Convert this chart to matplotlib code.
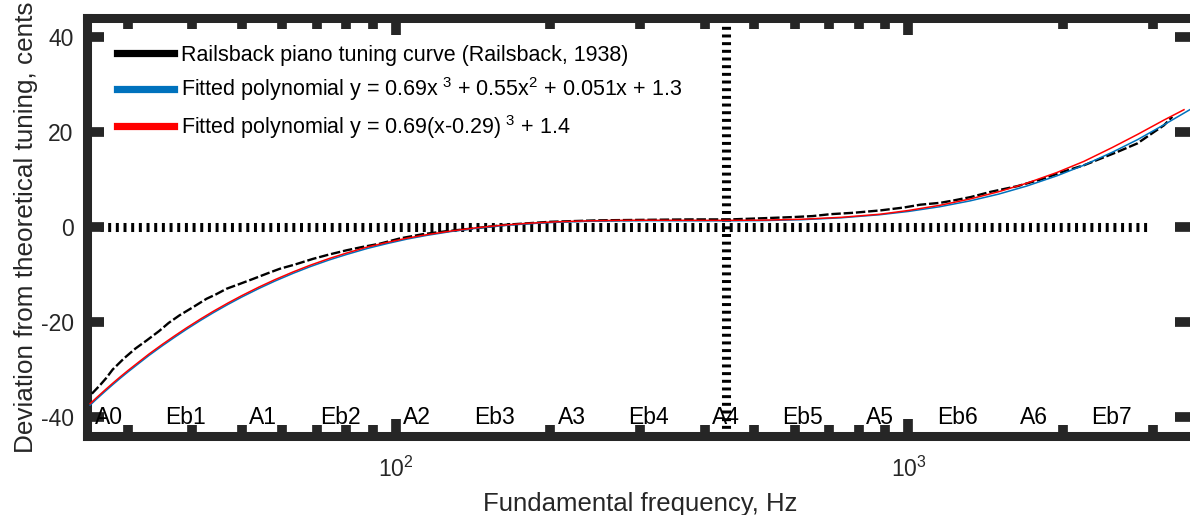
import matplotlib
matplotlib.use("Agg")
import matplotlib.pyplot as plt
from matplotlib.lines import Line2D
import matplotlib.ticker as mticker

plt.rcParams["font.family"] = ["Liberation Sans", "DejaVu Sans"]
plt.rcParams["mathtext.fontset"] = "custom"
plt.rcParams["mathtext.rm"] = "Liberation Sans"
plt.rcParams["axes.unicode_minus"] = False

# Railsback curve (Hz, cents)
rail_f = [25.5, 26.5, 27.2, 28.0, 29.5, 31.0, 32.6, 34.5, 36.0, 37.8, 40.0, 42.7,
          44.5, 46.7, 49.5, 52.7, 56.0, 59.3, 63.5, 68.9, 74.0, 80.1, 86.0, 93.1,
          101.8, 112.9, 125, 141.4, 165, 199.9, 246.6, 300, 375, 449, 506, 597,
          650, 704, 782, 882, 979, 1055, 1155, 1226, 1322, 1446, 1631, 1811, 2011,
          2200, 2371, 2556, 2797, 3014, 3151, 3273]
rail_c = [-35.1, -33.2, -31.8, -30.0, -27.6, -25.6, -23.9, -21.9, -20.2, -18.6,
          -17.0, -15.1, -14.2, -13.0, -12.0, -10.9, -9.8, -8.8, -7.9, -6.7, -5.8,
          -4.9, -4.2, -3.5, -2.4, -1.5, -0.9, -0.3, 0.5, 1.1, 1.4, 1.5, 1.6, 1.6,
          1.8, 2.1, 2.3, 2.7, 3.0, 3.5, 4.1, 4.7, 5.1, 5.6, 6.3, 7.4, 8.6, 10.0,
          11.7, 13.0, 14.4, 15.8, 17.6, 20.0, 21.4, 23.2]

# fitted curves (Hz, cents)
fit_f = [25.3, 26, 27, 28, 29, 30, 31.5, 33, 35, 37, 39, 41.5, 44, 47, 50, 54, 58,
         63, 68, 74, 80, 88, 96, 105, 115, 128, 142, 160, 180, 205, 235, 270, 310,
         360, 440, 520, 620, 740, 880, 1000, 1150, 1320, 1500, 1700, 1950, 2200,
         2500, 2800, 3150]
blue_c = [-37.5, -36.3, -34.7, -33.2, -31.8, -30.5, -28.7, -27.0, -25.0, -23.2,
          -21.55, -19.7, -18.05, -16.3, -14.75, -12.95, -11.4, -9.75, -8.35, -6.95,
          -5.8, -4.5, -3.5, -2.55, -1.75, -0.95, -0.32, 0.25, 0.67, 0.99, 1.19,
          1.30, 1.33, 1.31, 1.30, 1.35, 1.54, 1.94, 2.59, 3.28, 4.26, 5.51, 6.93,
          8.61, 10.79, 13.02, 15.75, 18.4, 21.5]
red_c = [-37.2, -36.0, -34.4, -32.9, -31.5, -30.2, -28.4, -26.7, -24.7, -22.9,
         -21.25, -19.4, -17.75, -16.0, -14.45, -12.65, -11.1, -9.45, -8.05, -6.65,
         -5.5, -4.2, -3.25, -2.35, -1.6, -0.85, -0.22, 0.35, 0.77, 1.09, 1.29, 1.40,
         1.43, 1.41, 1.40, 1.45, 1.64, 2.04, 2.69, 3.48, 4.56, 5.91, 7.43, 9.21,
         11.49, 13.82, 16.75, 19.5, 22.5]
blue_end = (3580, 25.0)
red_end = (3449, 24.7)

notes = ["A0", "Eb1", "A1", "Eb2", "A2", "Eb3", "A3", "Eb4", "A4",
         "Eb5", "A5", "Eb6", "A6", "Eb7"]
note_f = [27.5, 38.89, 55.0, 77.78, 110.0, 155.56, 220.0, 311.13, 440.0,
          622.25, 880.0, 1244.5, 1760.0, 2489.0]

gray = "#262626"
blue = "#0072BD"
red = "#FF0000"

fig = plt.figure(figsize=(11.9, 5.15), dpi=100)
ax = fig.add_axes([0.0735, 0.1534, 0.9282, 0.8116])
ax.set_xscale("log")

dots = (0, (0.33, 0.52))
ax.plot([26.5, 2960], [0, 0], color="black", lw=6.5, ls=dots, dash_capstyle="butt", zorder=1)
ax.axvline(440, color="black", lw=6.5, ls=dots, dash_capstyle="butt", zorder=1)

ax.plot(rail_f, rail_c, color="black", lw=1.7, ls=(0, (4, 1.2)), zorder=3)
ax.plot(fit_f + [blue_end[0]], blue_c + [blue_end[1]], color=blue, lw=1.1, zorder=4)
ax.plot(fit_f + [red_end[0]], red_c + [red_end[1]], color=red, lw=1.1, zorder=5)

for n, f in zip(notes, note_f):
    ax.text(f, -40, n, ha="center", va="center", fontsize=16.5, color="black", zorder=6)

ax.set_xlim(25, 3576)
ax.set_ylim(-44, 44)
ax.set_yticks([-40, -20, 0, 20, 40])
ax.xaxis.set_major_locator(mticker.LogLocator(base=10, numticks=10))
ax.xaxis.set_minor_locator(mticker.LogLocator(base=10, subs=range(2, 10), numticks=10))
ax.xaxis.set_minor_formatter(mticker.NullFormatter())

for s in ax.spines.values():
    s.set_linewidth(6.5)
    s.set_color(gray)
ax.tick_params(which="both", direction="in", top=True, right=True, color=gray,
               labelcolor=gray, labelsize=16.5, width=7)
ax.tick_params(which="major", length=12)
ax.tick_params(which="minor", length=7.6)
ax.tick_params(axis="y", pad=10)
ax.tick_params(axis="x", pad=15)

ax.set_xlabel("Fundamental frequency, Hz", fontsize=18.5, color=gray, labelpad=7)
ax.set_ylabel("Deviation from theoretical tuning, cents", fontsize=18.8, color=gray, labelpad=1.5)

handles = [Line2D([], [], color="black", lw=5.2),
           Line2D([], [], color=blue, lw=5.2),
           Line2D([], [], color=red, lw=5.2)]
labels = ["Railsback piano tuning curve (Railsback, 1938)",
          r"Fitted polynomial y = 0.69x$\mathregular{^{\ 3}}$ + 0.55x$\mathregular{^2}$ + 0.051x + 1.3",
          r"Fitted polynomial y = 0.69(x-0.29)$\mathregular{^{\ 3}}$ + 1.4"]
ax.legend(handles, labels, loc="upper left", bbox_to_anchor=(0.0267, 0.936),
          frameon=False, fontsize=15.5, handlelength=2.65, handletextpad=0.32,
          labelspacing=0.45, borderpad=0, borderaxespad=0)

fig.savefig("out.png", dpi=100)
